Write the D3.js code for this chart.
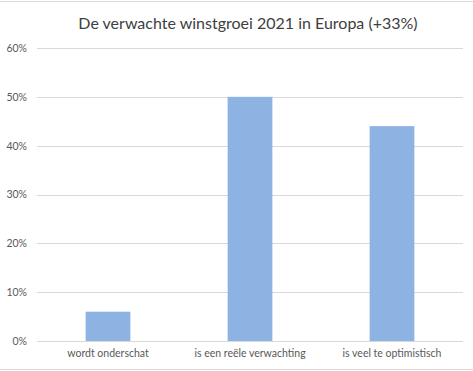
<!DOCTYPE html>
<html><head><meta charset="utf-8">
<script src="https://cdn.jsdelivr.net/npm/d3@7"></script>
<style>body{margin:0;background:#fff}svg{display:block}</style>
</head><body>
<script>
const categories = ["wordt onderschat", "is een reële verwachting", "is veel te optimistisch"];
const values = [0.06, 0.50, 0.44];
const tickValues = [0, 0.1, 0.2, 0.3, 0.4, 0.5, 0.6];
const title = "De verwachte winstgroei 2021 in Europa (+33%)";

const W = 473, H = 371;
const svg = d3.select("body").append("svg").attr("width", W).attr("height", H);
const font = "Lato, 'Open Sans', sans-serif";

svg.append("line").attr("x1",0).attr("x2",W).attr("y1",1.5).attr("y2",1.5).attr("stroke","#d9d9d9");
svg.append("line").attr("x1",0).attr("x2",W).attr("y1",369.5).attr("y2",369.5).attr("stroke","#d9d9d9");

const x = d3.scaleBand().domain(categories).range([37, 463]).paddingInner(0.685).paddingOuter(0.3425);
const y = d3.scaleLinear().domain([0, 0.6]).range([341, 48]);

svg.append("g").selectAll("line").data(tickValues).join("line")
  .attr("x1", 37).attr("x2", 463)
  .attr("y1", d => Math.round(y(d)) + 0.5).attr("y2", d => Math.round(y(d)) + 0.5)
  .attr("stroke", "#d9d9d9").attr("stroke-width", 1);

const yAxis = d3.axisLeft(y).tickValues(tickValues).tickFormat(d3.format(".0%")).tickSize(0).tickPadding(0);
const ga = svg.append("g").attr("transform","translate(27,0)").call(yAxis);
ga.select(".domain").remove();
ga.selectAll("text").attr("font-family", font).attr("font-size", 10.5).attr("fill", "#595959");

svg.append("g").selectAll("rect").data(values).join("rect")
  .attr("x", (d,i) => x(categories[i]))
  .attr("width", x.bandwidth())
  .attr("y", d => y(d))
  .attr("height", d => y(0) - y(d))
  .attr("fill", "#8db3e2");

const xAxis = d3.axisBottom(x).tickSize(0).tickPadding(9);
const gx = svg.append("g").attr("transform","translate(0,341)").call(xAxis);
gx.select(".domain").remove();
gx.selectAll("text").attr("font-family", font).attr("font-size", 10.5).attr("fill", "#595959");

svg.append("text").attr("x", 248).attr("y", 29).attr("text-anchor","middle")
  .attr("font-family", font).attr("font-size", 16).attr("fill", "#404040").text(title);
</script>
</body></html>
